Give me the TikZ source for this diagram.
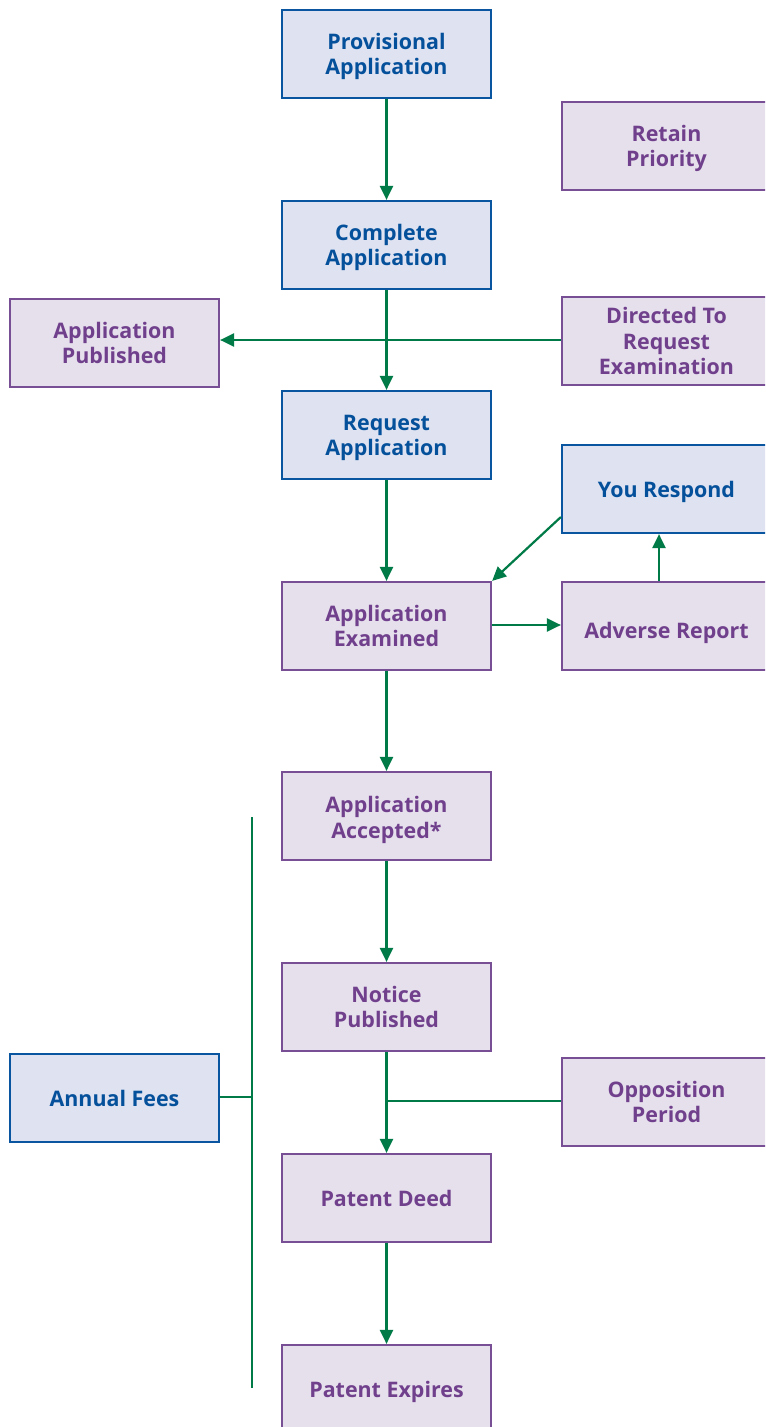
\documentclass[tikz,border=0pt]{standalone}
\usepackage{fontspec}
\setmainfont{Open Sans}[BoldFont={* Bold}]
\usetikzlibrary{arrows.meta}
\definecolor{bfill}{RGB}{222,226,241}
\definecolor{bdraw}{RGB}{10,85,160}
\definecolor{btext}{RGB}{5,80,155}
\definecolor{pfill}{RGB}{230,224,237}
\definecolor{pdraw}{RGB}{120,78,148}
\definecolor{ptext}{RGB}{112,64,140}
\definecolor{arr}{RGB}{0,122,70}
\newcommand{\bx}[2][6bp]{\raisebox{0pt}[\dimexpr\height+#1\relax][\depth]{\begin{tabular}{@{}c@{}}#2\end{tabular}}}
\tikzset{
  x=1bp, y=-1bp,
  box/.style={minimum width=209bp, minimum height=88bp, inner sep=0pt, line width=2.2bp,
     font=\fontsize{21.5}{25.5}\selectfont\bfseries},
  bluebox/.style={box, draw=bdraw, fill=bfill, text=btext},
  purplebox/.style={box, draw=pdraw, fill=pfill, text=ptext},
  conn/.style={draw=arr, line width=2.2bp},
  arrow/.style={conn, -{Triangle[length=14bp,width=13bp]}},
}
\begin{document}
\begin{tikzpicture}
\useasboundingbox (0,0) rectangle (765,1427);
\begin{scope}
\clip (0,0) rectangle (765,1427);
\node[bluebox] (prov) at (386.5,54) {\bx{Provisional\\Application}};
\node[purplebox] (retain) at (666.5,146) {\bx{Retain\\Priority}};
\node[bluebox] (complete) at (386.5,245) {\bx{Complete\\Application}};
\node[purplebox] (apppub) at (114.5,343) {\bx{Application\\Published}};
\node[purplebox] (directed) at (666.5,341) {\bx{Directed To\\Request\\Examination}};
\node[bluebox] (request) at (386.5,435) {\bx{Request\\Application}};
\node[bluebox] (respond) at (666.5,489) {\bx{You Respond}};
\node[purplebox] (examined) at (386.5,626) {\bx{Application\\Examined}};
\node[purplebox] (adverse) at (666.5,626) {\bx[14bp]{Adverse Report}};
\node[purplebox] (accepted) at (386.5,816) {\bx[9bp]{Application\\Accepted*}};
\node[purplebox] (notice) at (386.5,1007) {\bx{Notice\\Published}};
\node[bluebox] (fees) at (114.5,1098) {\bx{Annual Fees}};
\node[purplebox] (opposition) at (666.5,1102) {\bx{Opposition\\Period}};
\node[purplebox] (deed) at (386.5,1198) {\bx{Patent Deed}};
\node[purplebox] (expires) at (386.5,1389) {\bx{Patent Expires}};

\coordinate (feesTop) at (252,817);
\coordinate (feesBot) at (252,1388);
\coordinate (feesJoin) at (252,1097);
\coordinate (oppJoin) at (386.5,1101);

\draw[arrow] (prov) -- (complete);
\draw[arrow] (complete) -- (request);
\draw[arrow] (directed.west |- 0,340) -- (apppub.east |- 0,340);
\draw[arrow] (request) -- (examined);
\draw[arrow] (respond.west |- 0,517) -- (examined.north east);
\draw[arrow] (examined.east |- 0,625) -- (adverse.west |- 0,625);
\draw[arrow] (adverse.north -| 659,0) -- (respond.south -| 659,0);
\draw[arrow] (examined) -- (accepted);
\draw[arrow] (accepted) -- (notice);
\draw[arrow] (notice) -- (deed);
\draw[conn] (opposition.west |- oppJoin) -- (oppJoin);
\draw[arrow] (deed) -- (expires);
\draw[conn] (feesTop) -- (feesBot);
\draw[conn] (fees.east |- feesJoin) -- (feesJoin);
\end{scope}
\end{tikzpicture}
\end{document}
